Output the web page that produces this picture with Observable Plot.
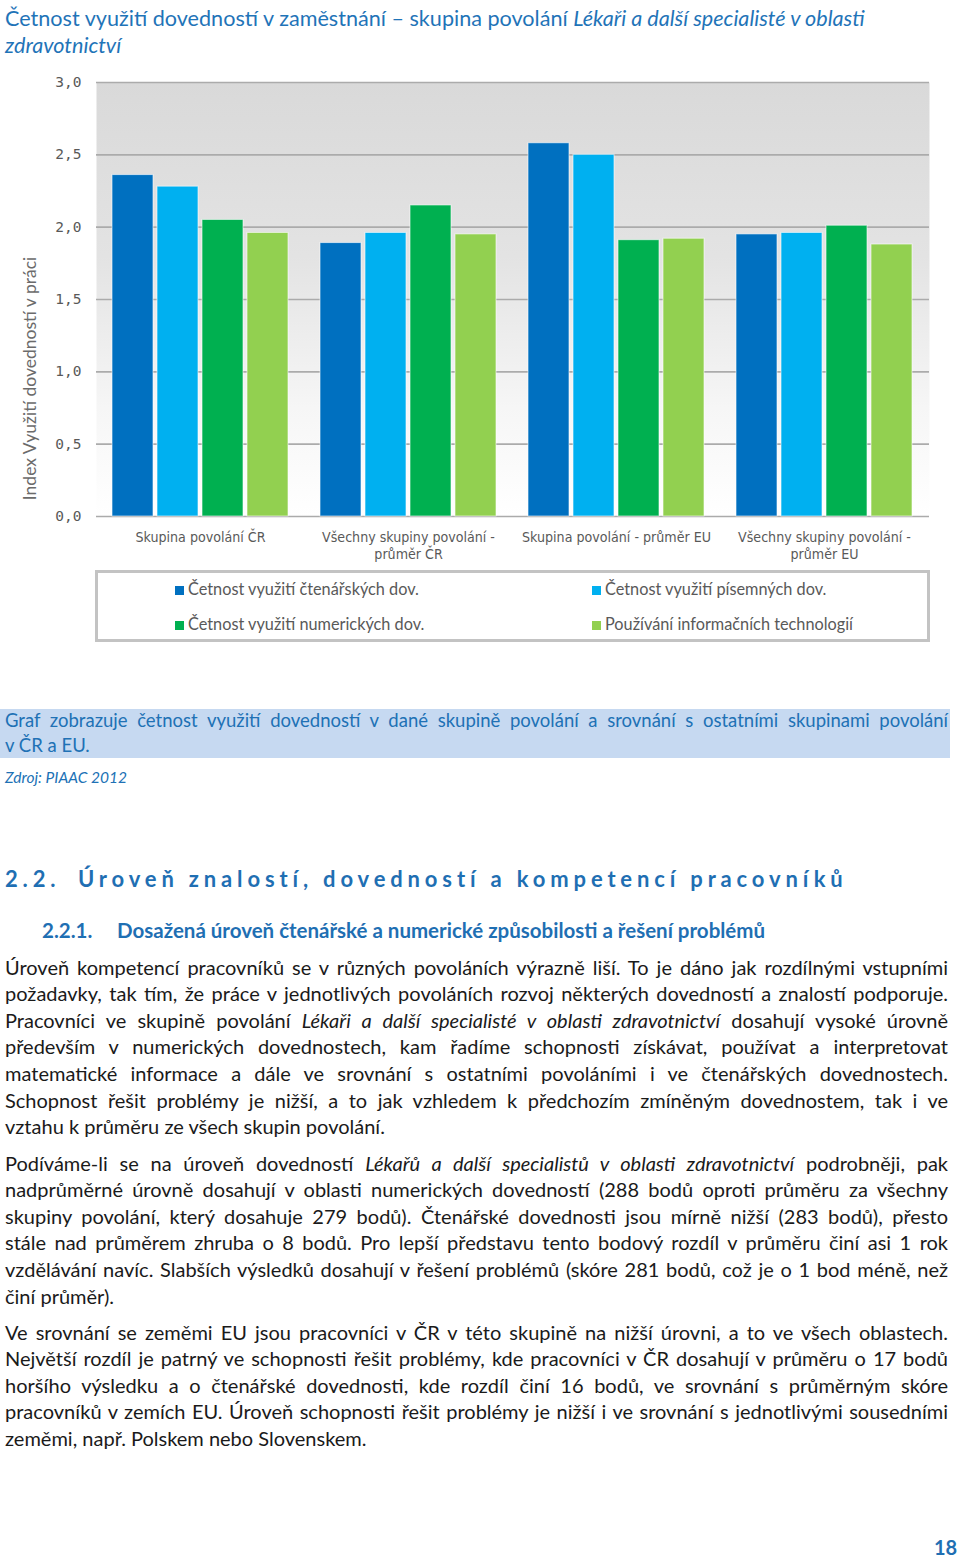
<!DOCTYPE html>
<html lang="cs">
<head>
<meta charset="utf-8">
<script src="https://cdn.jsdelivr.net/npm/d3@7"></script>
<script src="https://cdn.jsdelivr.net/npm/@observablehq/plot@0.6"></script>
<style>
  html, body { margin: 0; padding: 0; background: #fff; }
  body { width: 960px; height: 1559px; position: relative; overflow: hidden; font-family: Lato, "Open Sans", sans-serif; }
  .abs { position: absolute; }
  .title { left: 5px; top: 5px; font-size: 21.6px; line-height: 27px; color: #1f74b8; white-space: nowrap; }
  .layer { left: 0; top: 65px; }
  .legend { left: 95px; top: 570px; width: 829px; height: 66px; border: 3px solid #c3c3c3; }
  .litem { position: absolute; font-size: 16.3px; color: #595959; white-space: nowrap; line-height: 20px; }
  .litem i { display: inline-block; width: 9px; height: 9px; margin-right: 4px; vertical-align: 0px; }
  .capbox { left: 0; top: 709px; width: 950px; height: 49px; background: #c6d9f1; }
  .cap { left: 5px; width: 943px; font-size: 18.5px; color: #2071b5; line-height: 25px; white-space: nowrap; }
  .src { left: 5px; top: 767px; font-size: 15.5px; font-style: italic; color: #2071b5; line-height: 20px; }
  .h2 { top: 864px; font-size: 22px; font-weight: 700; color: #1f6fb3; letter-spacing: 4.85px; white-space: nowrap; line-height: 30px; }
  .h3 { top: 917px; font-size: 20.5px; font-weight: 700; color: #1f6fb3; white-space: nowrap; line-height: 26px; }
  .para { left: 5px; width: 943px; }
  .ln { height: 26.6px; line-height: 26.6px; font-size: 20px; color: #1a1a1a; white-space: nowrap; }
  .j { text-align: justify; text-align-last: justify; }
  .pg { left: 934px; top: 1535px; font-size: 20px; font-weight: 700; color: #1f6fb3; }
</style>
</head>
<body>
<svg width="0" height="0" style="position:absolute">
  <defs>
    <linearGradient id="bgGrad" x1="0" y1="0" x2="0" y2="1">
      <stop offset="0" stop-color="#d9d9d9"></stop>
      <stop offset="0.4" stop-color="#e3e3e3"></stop>
      <stop offset="0.75" stop-color="#f6f6f6"></stop>
      <stop offset="1" stop-color="#ffffff"></stop>
    </linearGradient>
  </defs>
</svg>

<div class="abs title">Četnost využití dovedností v zaměstnání – skupina povolání <i>Lékaři a další specialisté v oblasti</i><br><i>zdravotnictví</i></div>

<div id="chartBack" class="abs layer"></div>
<div id="chart" class="abs layer"></div>

<div class="abs legend" id="legend"></div>

<div class="abs capbox"></div>
<div class="abs cap j" style="top:708px">Graf zobrazuje četnost využití dovedností v dané skupině povolání a srovnání s ostatními skupinami povolání</div>
<div class="abs cap" style="top:733px">v ČR a EU.</div>
<div class="abs src">Zdroj: PIAAC 2012</div>

<div class="abs h2" style="left:5px">2.2.</div>
<div class="abs h2" style="left:78px">Úroveň znalostí, dovedností a kompetencí pracovníků</div>
<div class="abs h3" style="left:42px">2.2.1.</div>
<div class="abs h3" style="left:117px">Dosažená úroveň čtenářské a numerické způsobilosti a řešení problémů</div>

<div class="abs para" style="top:953.7px">
  <div class="ln j">Úroveň kompetencí pracovníků se v různých povoláních výrazně liší. To je dáno jak rozdílnými vstupními</div>
  <div class="ln j">požadavky, tak tím, že práce v jednotlivých povoláních rozvoj některých dovedností a znalostí podporuje.</div>
  <div class="ln j">Pracovníci ve skupině povolání <i>Lékaři a další specialisté v oblasti zdravotnictví</i> dosahují vysoké úrovně</div>
  <div class="ln j">především v numerických dovednostech, kam řadíme schopnosti získávat, používat a interpretovat</div>
  <div class="ln j">matematické informace a dále ve srovnání s ostatními povoláními i ve čtenářských dovednostech.</div>
  <div class="ln j">Schopnost řešit problémy je nižší, a to jak vzhledem k předchozím zmíněným dovednostem, tak i ve</div>
  <div class="ln">vztahu k průměru ze všech skupin povolání.</div>
</div>

<div class="abs para" style="top:1149.7px">
  <div class="ln j">Podíváme-li se na úroveň dovedností <i>Lékařů a další specialistů v oblasti zdravotnictví</i> podrobněji, pak</div>
  <div class="ln j">nadprůměrné úrovně dosahují v oblasti numerických dovedností (288 bodů oproti průměru za všechny</div>
  <div class="ln j">skupiny povolání, který dosahuje 279 bodů). Čtenářské dovednosti jsou mírně nižší (283 bodů), přesto</div>
  <div class="ln j">stále nad průměrem zhruba o 8 bodů. Pro lepší představu tento bodový rozdíl v průměru činí asi 1 rok</div>
  <div class="ln j">vzdělávání navíc. Slabších výsledků dosahují v řešení problémů (skóre 281 bodů, což je o 1 bod méně, než</div>
  <div class="ln">činí průměr).</div>
</div>

<div class="abs para" style="top:1318.7px">
  <div class="ln j">Ve srovnání se zeměmi EU jsou pracovníci v ČR v této skupině na nižší úrovni, a to ve všech oblastech.</div>
  <div class="ln j">Největší rozdíl je patrný ve schopnosti řešit problémy, kde pracovníci v ČR dosahují v průměru o 17 bodů</div>
  <div class="ln j">horšího výsledku a o čtenářské dovednosti, kde rozdíl činí 16 bodů, ve srovnání s průměrným skóre</div>
  <div class="ln j">pracovníků v zemích EU. Úroveň schopnosti řešit problémy je nižší i ve srovnání s jednotlivými sousedními</div>
  <div class="ln">zeměmi, např. Polskem nebo Slovenskem.</div>
</div>

<div class="abs pg">18</div>

<script>
// ---- Data ----
const groups = [
  "Skupina povolání ČR",
  "Všechny skupiny povolání -\nprůměr ČR",
  "Skupina povolání - průměr EU",
  "Všechny skupiny povolání -\nprůměr EU"
];
const series = [
  "Četnost využití čtenářských dov.",
  "Četnost využití písemných dov.",
  "Četnost využití numerických dov.",
  "Používání informačních technologií"
];
const seriesColors = ["#0070C0", "#00B0F0", "#00B050", "#92D050"];
const readingValues = [2.36, 1.89, 2.58, 1.95];
const writingValues = [2.28, 1.96, 2.50, 1.96];
const numericValues = [2.05, 2.15, 1.91, 2.01];
const ictValues = [1.96, 1.95, 1.92, 1.88];
const yTicks = [0, 0.5, 1, 1.5, 2, 2.5, 3];
const yAxisTitle = "Index Využití dovedností v práci";

const valueSets = [readingValues, writingValues, numericValues, ictValues];
const data = [];
groups.forEach((g, gi) => {
  series.forEach((s, si) => data.push({group: g, series: s, value: valueSets[si][gi]}));
});

const fmt = d => d3.format(".1f")(d).replace(".", ",");

const common = {
  width: 960,
  height: 505,
  marginLeft: 96,
  marginRight: 31,
  marginTop: 17,
  marginBottom: 54,
  y: {domain: [0, 3], label: null}
};

// Back layer: plot-area gradient, gridlines, y axis and its title
const back = Plot.plot({
  ...common,
  style: {background: "transparent", fontFamily: "'DejaVu Sans Mono', monospace"},
  marks: [
    Plot.frame({fill: "url(#bgGrad)", stroke: "none"}),
    Plot.ruleY(yTicks, {stroke: "#ababab", strokeWidth: 1.6}),
    Plot.axisY(yTicks, {tickSize: 0, tickPadding: 15, tickFormat: fmt, label: null, fontFamily: "'DejaVu Sans Mono', monospace", fontSize: 14.5, fill: "#595959"}),
    Plot.text([yAxisTitle], {frameAnchor: "left", textAnchor: "middle", rotate: -90, dx: -66, dy: 79, fontSize: 17.5, fill: "#6b6b6b", fontFamily: "Lato, sans-serif"})
  ]
});
document.getElementById("chartBack").appendChild(back);

// Front layer: grouped bars faceted by occupation group
const chart = Plot.plot({
  ...common,
  style: {background: "transparent", fontFamily: "'DejaVu Sans Condensed', 'DejaVu Sans', sans-serif", fontSize: "13px"},
  fx: {domain: groups, paddingInner: 0.144, paddingOuter: 0.072, label: null},
  x: {domain: series, paddingInner: 0.1, paddingOuter: 0, axis: null},
  y: {domain: [0, 3], label: null, axis: null},
  color: {domain: series, range: seriesColors},
  marks: [
    Plot.barY(data, {fx: "group", x: "series", y: "value", fill: "series", stroke: "#ffffff", strokeWidth: 1, strokeOpacity: 0.6}),
    Plot.axisFx({anchor: "bottom", tickSize: 0, tickPadding: 13, label: null, lineHeight: 1.22, fontSize: 14.1, fill: "#595959"})
  ]
});
document.getElementById("chart").appendChild(chart);

// ---- Legend (HTML, below the SVG) ----
const legend = document.getElementById("legend");
const legPos = [[77, 6], [494, 6], [77, 41], [494, 41]];
series.forEach((s, i) => {
  const d = document.createElement("div");
  d.className = "litem";
  d.style.left = legPos[i][0] + "px";
  d.style.top = legPos[i][1] + "px";
  d.innerHTML = `<i style="background:${seriesColors[i]}"></i>${s}`;
  legend.appendChild(d);
});

// shrink justified lines whose natural width exceeds the column
document.querySelectorAll(".ln.j, .cap.j").forEach(el => {
  const span = document.createElement("span");
  while (el.firstChild) span.appendChild(el.firstChild);
  el.appendChild(span);
  el.style.textAlign = "left"; el.style.textAlignLast = "left";
  const w = span.getBoundingClientRect().width;
  const target = el.clientWidth;
  if (w > target - 4) {
    const fs = parseFloat(getComputedStyle(el).fontSize);
    el.style.fontSize = (fs * (target - 6) / w) + "px";
  }
  el.style.textAlign = ""; el.style.textAlignLast = "";
});
</script>
</body>
</html>
